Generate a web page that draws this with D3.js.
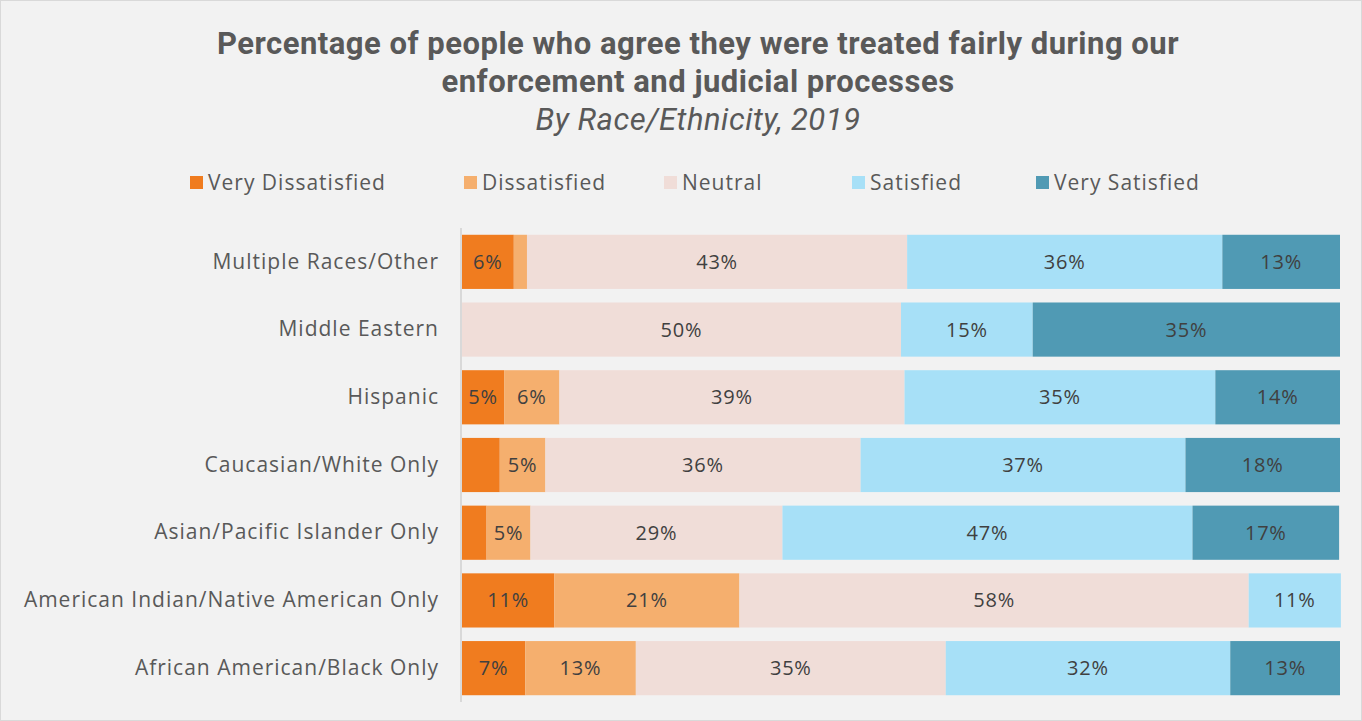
<!DOCTYPE html>
<html lang="en">
<head>
<meta charset="utf-8">
<title>Treated fairly by race/ethnicity</title>
<script src="https://cdnjs.cloudflare.com/ajax/libs/d3/7.8.5/d3.min.js"></script>
<style>
  body { margin: 0; background: #f2f2f2; }
  svg { display: block; }
</style>
</head>
<body>
<script>
var categories = ["Multiple Races/Other", "Middle Eastern", "Hispanic", "Caucasian/White Only",
  "Asian/Pacific Islander Only", "American Indian/Native American Only", "African American/Black Only"];
var seriesNames = ["Very Dissatisfied", "Dissatisfied", "Neutral", "Satisfied", "Very Satisfied"];
var veryDissatisfied = [5.9, 0, 4.8, 4.3, 2.8, 10.5, 7.2];
var dissatisfied     = [1.5, 0, 6.3, 5.2, 5.0, 21.1, 12.6];
var neutral          = [43.3, 50, 39.3, 35.9, 28.7, 58.0, 35.3];
var satisfied        = [35.9, 15, 35.4, 37.0, 46.7, 10.5, 32.4];
var verySatisfied    = [13.4, 35, 14.2, 17.6, 16.7, 0, 12.5];
var colors = ["#f07c1f", "#f5af6e", "#f0ddd8", "#a7e0f7", "#509ab4"];

var w = 1362, h = 721;
var font = "'Open Sans', 'Lato', sans-serif";
var titleFont = "'Roboto', 'Liberation Sans', sans-serif";

var svg = d3.select("body").append("svg").attr("width", w).attr("height", h);
svg.append("rect").attr("x", 0.5).attr("y", 0.5).attr("width", w - 1).attr("height", h - 1)
  .attr("fill", "#f2f2f2").attr("stroke", "#d9d9d9");

// titles
var titles = [
  { t: "Percentage of people who agree they were treated fairly during our", y: 54, b: true },
  { t: "enforcement and judicial processes", y: 92, b: true },
  { t: "By Race/Ethnicity, 2019", y: 130, b: false }
];
svg.selectAll("text.title").data(titles).enter().append("text").attr("class", "title")
  .attr("x", 698).attr("y", function (d) { return d.y; }).attr("text-anchor", "middle")
  .attr("font-family", titleFont).attr("font-size", "31px").attr("letter-spacing", "0.5px")
  .attr("font-weight", function (d) { return d.b ? "bold" : "normal"; })
  .attr("font-style", function (d) { return d.b ? "normal" : "italic"; })
  .attr("fill", "#595959")
  .text(function (d) { return d.t; });

// data table
var rows = categories.map(function (c, i) {
  return { cat: c, vals: [veryDissatisfied[i], dissatisfied[i], neutral[i], satisfied[i], verySatisfied[i]] };
});

var x = d3.scaleLinear().domain([0, 100]).range([462, 1340]);
var y = d3.scaleBand().domain(categories).range([228, 702]).paddingInner(0.2).paddingOuter(0.1);

// legend
var legendX = [190, 464, 664, 852, 1036];
var leg = svg.selectAll("g.leg").data(seriesNames).enter().append("g").attr("class", "leg")
  .attr("transform", function (d, i) { return "translate(" + legendX[i] + ",176)"; });
leg.append("rect").attr("width", 13).attr("height", 13).attr("fill", function (d, i) { return colors[i]; });
leg.append("text").attr("x", 18).attr("y", 14).attr("font-family", font).attr("font-size", "21px")
  .attr("letter-spacing", "1px").attr("fill", "#595959").text(function (d) { return d; });

// bars
var g = svg.selectAll("g.row").data(rows).enter().append("g").attr("class", "row")
  .attr("transform", function (d) { return "translate(0," + y(d.cat) + ")"; });

g.each(function (d) {
  var acc = 0;
  var segs = d.vals.map(function (v, k) { var s = { x0: acc, v: v, k: k }; acc += v; return s; });
  var sel = d3.select(this);
  sel.selectAll("rect").data(segs).enter().append("rect")
    .attr("x", function (s) { return x(s.x0); })
    .attr("width", function (s) { return x(s.x0 + s.v) - x(s.x0); })
    .attr("height", y.bandwidth())
    .attr("fill", function (s) { return colors[s.k]; });
  sel.selectAll("text.val").data(segs.filter(function (s) { return s.v >= 4.5; })).enter().append("text")
    .attr("class", "val")
    .attr("x", function (s) { return x(s.x0 + s.v / 2); })
    .attr("y", y.bandwidth() / 2 + 7)
    .attr("text-anchor", "middle").attr("font-family", font).attr("font-size", "20px")
    .attr("letter-spacing", "0.8px").attr("fill", "#404040")
    .text(function (s) { return Math.round(s.v) + "%"; });
});

// category axis
var axis = svg.append("g").attr("transform", "translate(461,0)")
  .call(d3.axisLeft(y).tickSize(0).tickPadding(22));
axis.select(".domain").attr("stroke", "#d9d9d9").attr("stroke-width", 2)
  .attr("d", "M0,228V702");
axis.selectAll("text").attr("font-family", font).attr("font-size", "21px")
  .attr("letter-spacing", "1px").attr("fill", "#595959");
</script>
</body>
</html>
